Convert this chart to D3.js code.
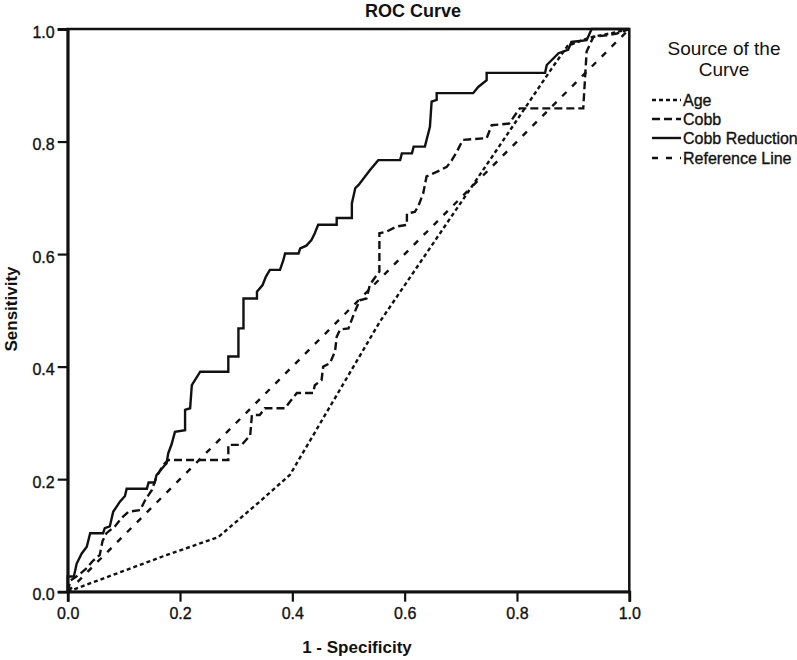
<!DOCTYPE html>
<html>
<head>
<meta charset="utf-8">
<script src="https://cdn.jsdelivr.net/npm/d3@7"></script>
<style>
  html, body { margin: 0; padding: 0; background: #fff; }
  svg { display: block; font-family: "Liberation Sans", Arial, sans-serif; }
</style>
</head>
<body>
<svg id="chart" width="797" height="660"></svg>
<script>
// ---- Data (1 - Specificity, Sensitivity) ----
const seriesNames = ["Age", "Cobb", "Cobb Reduction", "Reference Line"];
const tickValues = [0.0, 0.2, 0.4, 0.6, 0.8, 1.0];

const ageFPR  = [0, 0.17, 0.268, 0.343, 0.396, 0.47, 0.556, 0.77, 0.862, 0.89, 0.93, 0.97, 1];
const ageTPR  = [0, 0.063, 0.097, 0.161, 0.208, 0.334, 0.48, 0.794, 0.93, 0.97, 0.985, 0.993, 1];

const cobbFPR = [0, 0.005, 0.02, 0.034, 0.045, 0.057, 0.062, 0.069, 0.084, 0.095, 0.108, 0.129, 0.138, 0.15, 0.158, 0.17, 0.179, 0.286, 0.286, 0.31, 0.325, 0.328, 0.342, 0.351, 0.387, 0.396, 0.408, 0.437, 0.44, 0.452, 0.455, 0.467, 0.476, 0.479, 0.485, 0.5, 0.509, 0.52, 0.532, 0.538, 0.544, 0.555, 0.555, 0.568, 0.586, 0.604, 0.604, 0.618, 0.624, 0.633, 0.639, 0.657, 0.675, 0.684, 0.693, 0.699, 0.704, 0.746, 0.755, 0.786, 0.805, 0.918, 0.924, 0.936, 0.96, 0.978, 1];
const cobbTPR = [0, 0.02, 0.03, 0.042, 0.055, 0.065, 0.09, 0.104, 0.116, 0.13, 0.142, 0.145, 0.163, 0.181, 0.204, 0.225, 0.234, 0.234, 0.261, 0.261, 0.278, 0.314, 0.314, 0.326, 0.326, 0.338, 0.353, 0.353, 0.367, 0.376, 0.40, 0.406, 0.427, 0.453, 0.466, 0.468, 0.492, 0.518, 0.521, 0.545, 0.554, 0.569, 0.637, 0.64, 0.649, 0.652, 0.672, 0.675, 0.684, 0.708, 0.738, 0.746, 0.755, 0.767, 0.782, 0.794, 0.803, 0.806, 0.829, 0.832, 0.859, 0.859, 0.96, 0.986, 0.989, 0.992, 1];

const redFPR  = [0, 0, 0.011, 0.016, 0.025, 0.034, 0.04, 0.063, 0.066, 0.075, 0.081, 0.093, 0.102, 0.105, 0.141, 0.144, 0.155, 0.158, 0.164, 0.173, 0.176, 0.179, 0.185, 0.191, 0.209, 0.209, 0.218, 0.221, 0.236, 0.286, 0.286, 0.304, 0.304, 0.313, 0.313, 0.337, 0.337, 0.347, 0.353, 0.36, 0.378, 0.384, 0.387, 0.411, 0.414, 0.425, 0.434, 0.44, 0.446, 0.479, 0.479, 0.506, 0.506, 0.512, 0.518, 0.538, 0.553, 0.592, 0.595, 0.613, 0.616, 0.636, 0.645, 0.648, 0.657, 0.657, 0.722, 0.731, 0.746, 0.746, 0.85, 0.853, 0.874, 0.891, 0.897, 0.924, 0.933, 1];
const redTPR  = [0, 0.027, 0.027, 0.05, 0.068, 0.08, 0.104, 0.104, 0.113, 0.116, 0.142, 0.16, 0.17, 0.183, 0.183, 0.194, 0.194, 0.207, 0.214, 0.225, 0.228, 0.246, 0.262, 0.284, 0.287, 0.323, 0.326, 0.367, 0.391, 0.391, 0.418, 0.418, 0.468, 0.468, 0.521, 0.521, 0.533, 0.545, 0.56, 0.572, 0.572, 0.589, 0.601, 0.601, 0.61, 0.615, 0.625, 0.637, 0.652, 0.652, 0.664, 0.664, 0.69, 0.717, 0.723, 0.749, 0.767, 0.767, 0.779, 0.779, 0.791, 0.791, 0.826, 0.871, 0.874, 0.886, 0.886, 0.897, 0.909, 0.922, 0.922, 0.936, 0.957, 0.963, 0.977, 0.98, 1.0, 1];

const refFPR  = [0, 1];
const refTPR  = [0, 1];

// ---- Layout ----
const svg = d3.select("#chart");
const x = d3.scaleLinear().domain([0, 1]).range([67.7, 629.3]);
const y = d3.scaleLinear().domain([0, 1]).range([591.7, 29]);

const styles = {
  "Age": "4,3",
  "Cobb": "8,4",
  "Cobb Reduction": null,
  "Reference Line": "6,8"
};

const series = [
  { name: "Age", fx: ageFPR, ty: ageTPR },
  { name: "Cobb", fx: cobbFPR, ty: cobbTPR },
  { name: "Cobb Reduction", fx: redFPR, ty: redTPR },
  { name: "Reference Line", fx: refFPR, ty: refTPR }
];

const line = d3.line().x(d => x(d[0])).y(d => y(d[1]));

// Frame (top & right)
svg.append("rect")
  .attr("x", x(0)).attr("y", y(1))
  .attr("width", x(1) - x(0)).attr("height", y(0) - y(1))
  .attr("fill", "none").attr("stroke", "#111").attr("stroke-width", 2.5);

// Curves
series.forEach(s => {
  const pts = s.fx.map((v, i) => [v, s.ty[i]]);
  svg.append("path")
    .datum(pts)
    .attr("d", line)
    .attr("fill", "none")
    .attr("stroke", "#111")
    .attr("stroke-width", 2.4)
    .attr("stroke-dasharray", styles[s.name]);
});

// Axes
const fmt = d3.format(".1f");
const xAxis = svg.append("g")
  .attr("transform", `translate(0,${y(0)})`)
  .call(d3.axisBottom(x).tickValues(tickValues).tickFormat(fmt).tickSize(10).tickPadding(6));
const yAxis = svg.append("g")
  .attr("transform", `translate(${x(0)},0)`)
  .call(d3.axisLeft(y).tickValues(tickValues).tickFormat(fmt).tickSize(10).tickPadding(3));

[xAxis, yAxis].forEach(g => {
  g.selectAll("path.domain").attr("stroke", "#111").attr("stroke-width", 2.8);
  g.selectAll(".tick line").attr("stroke", "#111").attr("stroke-width", 2.2);
  g.selectAll("text").attr("fill", "#111")
    .attr("stroke", "#111").attr("stroke-width", 0.35)
    .style("font-size", "16px")
    .style("font-family", "'Liberation Sans', Arial, sans-serif");
});
yAxis.selectAll("text").attr("dy", "0.5em");

// Title
svg.append("text")
  .attr("x", 413).attr("y", 17)
  .attr("text-anchor", "middle")
  .style("font-size", "18px").style("font-weight", "bold")
  .attr("fill", "#111")
  .text("ROC Curve");

// Axis titles
svg.append("text")
  .attr("x", 357).attr("y", 653)
  .attr("text-anchor", "middle")
  .style("font-size", "17px").style("font-weight", "bold")
  .attr("fill", "#111")
  .text("1 - Specificity");

svg.append("text")
  .attr("transform", "translate(17,309) rotate(-90)")
  .attr("text-anchor", "middle")
  .style("font-size", "17px").style("font-weight", "bold")
  .attr("fill", "#111")
  .text("Sensitivity");

// Legend
const legTitle = svg.append("text")
  .attr("text-anchor", "middle")
  .style("font-size", "19px")
  .attr("fill", "#111");
legTitle.append("tspan").attr("x", 724).attr("y", 55).text("Source of the");
legTitle.append("tspan").attr("x", 724).attr("y", 76).text("Curve");

const legendY = [100, 119, 138, 158];
seriesNames.forEach((name, i) => {
  svg.append("line")
    .attr("x1", 652).attr("x2", 681)
    .attr("y1", legendY[i]).attr("y2", legendY[i])
    .attr("stroke", "#111").attr("stroke-width", 2.4)
    .attr("stroke-dasharray", styles[name]);
  svg.append("text")
    .attr("x", 683).attr("y", legendY[i] + 5.5)
    .style("font-size", "16px")
    .attr("fill", "#111")
    .attr("stroke", "#111").attr("stroke-width", 0.35)
    .text(name);
});
</script>
</body>
</html>
